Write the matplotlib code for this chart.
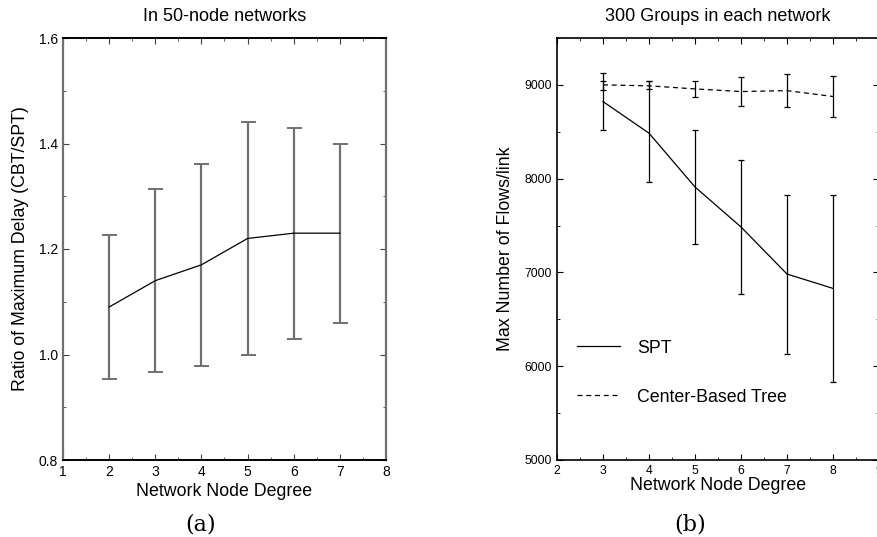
import matplotlib.pyplot as plt

# (a) ratio of max delay, CBT/SPT
deg_a = [2, 3, 4, 5, 6, 7]
ratio_mean = [1.09, 1.14, 1.17, 1.22, 1.23, 1.23]
ratio_hi = [1.226, 1.313, 1.361, 1.44, 1.43, 1.40]
ratio_lo = [0.953, 0.966, 0.979, 1.00, 1.03, 1.06]

# (b) max flows per link
deg_b = [3, 4, 5, 6, 7, 8]
spt_mean = [8822, 8485, 7911, 7485, 6983, 6830]
spt_hi = [9128, 9042, 8517, 8195, 7830, 7830]
spt_lo = [8524, 7964, 7304, 6770, 6128, 5827]
cbt_mean = [9000, 8990, 8957, 8929, 8939, 8876]
cbt_hi = [9046, 9040, 9046, 9085, 9117, 9092]
cbt_lo = [8947, 8955, 8872, 8773, 8759, 8660]

plt.rcParams['font.family'] = ['Liberation Sans', 'DejaVu Sans']
fig = plt.figure(figsize=(8.78, 5.37), dpi=100)

def errs(mean, lo, hi):
    return [[m - l for m, l in zip(mean, lo)], [h - m for m, h in zip(mean, hi)]]

########################################################################
ax1 = fig.add_axes([63/878, 77/537, 323/878, 422/537])
ax1.errorbar(deg_a, ratio_mean, yerr=errs(ratio_mean, ratio_lo, ratio_hi),
             color='black', lw=0.9, ecolor='#707070', elinewidth=1.6,
             capsize=5.4, capthick=1.4)
ax1.set_xlim(1, 8)
ax1.set_ylim(0.8, 1.6)
ax1.set_xticks(range(1, 9))
ax1.set_xticks([x + 0.5 for x in range(1, 8)], minor=True)
ax1.set_yticks([0.8, 1.0, 1.2, 1.4, 1.6])
ax1.set_yticklabels(['0.8', '1.0', '1.2', '1.4', '1.6'])
ax1.set_yticks([0.9, 1.1, 1.3, 1.5], minor=True)
ax1.tick_params(which='both', direction='in', top=True, right=True,
                labelsize=10, length=4, color='#404040')
ax1.tick_params(which='minor', length=2.5)
for s in ['left', 'right']:
    ax1.spines[s].set_color('#707070')
    ax1.spines[s].set_linewidth(1.6)
for s in ['top', 'bottom']:
    ax1.spines[s].set_linewidth(1.4)
ax1.set_title('In 50-node networks', fontsize=13, pad=12)
ax1.set_xlabel('Network Node Degree', fontsize=12.8, labelpad=3)
ax1.set_ylabel('Ratio of Maximum Delay (CBT/SPT)', fontsize=12.8, labelpad=7)

########################################################################
ax2 = fig.add_axes([557/878, 77/537, 322/878, 422/537])
ax2.errorbar(deg_b, spt_mean, yerr=errs(spt_mean, spt_lo, spt_hi),
             color='black', lw=0.9, elinewidth=0.9, capsize=2, capthick=0.9,
             label='SPT')
ax2.errorbar(deg_b, cbt_mean, yerr=errs(cbt_mean, cbt_lo, cbt_hi),
             color='black', lw=0.9, ls=(0, (4, 3)), elinewidth=0.9,
             capsize=2, capthick=0.9, label='Center-Based Tree')
ax2.set_xlim(2, 9)
ax2.set_ylim(5000, 9500)
ax2.set_xticks(range(2, 10))
ax2.set_xticks([x + 0.5 for x in range(2, 9)], minor=True)
ax2.set_yticks([5000, 6000, 7000, 8000, 9000])
ax2.set_yticks([5500, 6500, 7500, 8500, 9500], minor=True)
ax2.tick_params(which='both', direction='in', top=True, right=True,
                labelsize=8.8, length=4)
ax2.tick_params(which='minor', length=2.5)
for s in ax2.spines.values():
    s.set_linewidth(1.2)
ax2.set_title('300 Groups in each network', fontsize=13, pad=12)
ax2.set_xlabel('Network Node Degree', fontsize=12.8, labelpad=0)
ax2.set_ylabel('Max Number of Flows/link', fontsize=12.8, labelpad=8)
h, l = ax2.get_legend_handles_labels()
h = [x[0] for x in h]
ax2.legend(h, l, loc='center left', bbox_to_anchor=(0.062, 0.207),
           frameon=False, fontsize=12.8, handlelength=2.4, handletextpad=1.0,
           labelspacing=1.8, borderpad=0, borderaxespad=0)

fig.text(201/878, 1 - 525/537, '(a)', fontsize=16, family='DejaVu Serif',
         ha='center', va='center')
fig.text(690/878, 1 - 525/537, '(b)', fontsize=16, family='DejaVu Serif',
         ha='center', va='center')

fig.savefig('out.png', dpi=100)
